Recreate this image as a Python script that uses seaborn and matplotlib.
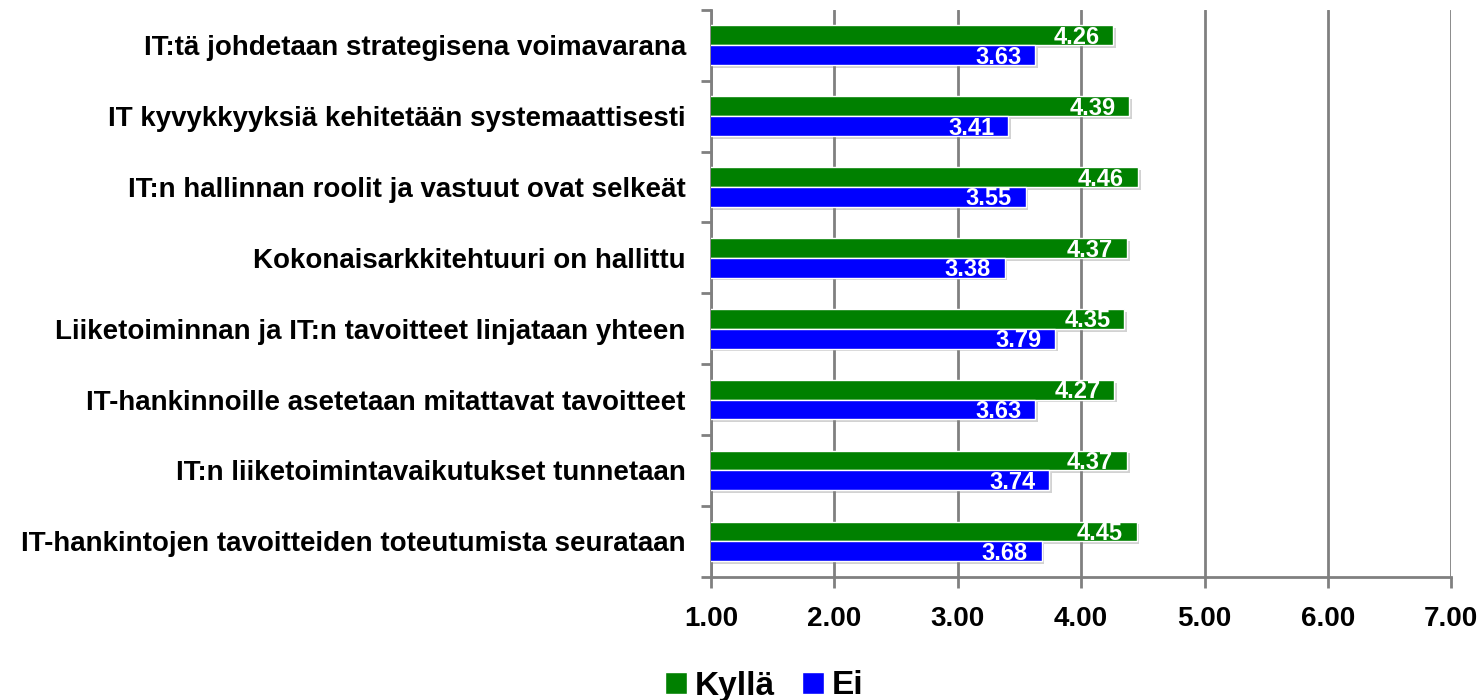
import numpy as np
import pandas as pd
import seaborn as sns
import matplotlib.pyplot as plt
import matplotlib.patheffects as pe
from matplotlib.ticker import FixedLocator

# data
kysymykset = [
    "IT:tä johdetaan strategisena voimavarana",
    "IT kyvykkyyksiä kehitetään systemaattisesti",
    "IT:n hallinnan roolit ja vastuut ovat selkeät",
    "Kokonaisarkkitehtuuri on hallittu",
    "Liiketoiminnan ja IT:n tavoitteet linjataan yhteen",
    "IT-hankinnoille asetetaan mitattavat tavoitteet",
    "IT:n liiketoimintavaikutukset tunnetaan",
    "IT-hankintojen tavoitteiden toteutumista seurataan",
]
kylla = [4.26, 4.39, 4.46, 4.37, 4.35, 4.27, 4.37, 4.45]
ei = [3.63, 3.41, 3.55, 3.38, 3.79, 3.63, 3.74, 3.68]
ryhmat = ["Kyllä", "Ei"]
x_ticks = [1, 2, 3, 4, 5, 6, 7]

df = pd.DataFrame({
    "kysymys": kysymykset * 2,
    "arvo": kylla + ei,
    "ryhma": [ryhmat[0]] * len(kylla) + [ryhmat[1]] * len(ei),
})

sns.set_style("white")
plt.rcParams["font.family"] = ["Liberation Sans", "DejaVu Sans"]
plt.rcParams["font.weight"] = "bold"
plt.rcParams["text.color"] = "black"
plt.rcParams["xtick.color"] = "black"
plt.rcParams["ytick.color"] = "black"

fig = plt.figure(figsize=(14.84, 7), dpi=100)
ax = fig.add_axes([0.479, 0.176, 0.499, 0.81])

sns.barplot(data=df, y="kysymys", x="arvo", hue="ryhma", orient="h",
            palette=["#008000", "#0000FF"], width=0.56, saturation=1,
            order=kysymykset, hue_order=ryhmat, ax=ax, zorder=3)

# varjot + arvot palkkien päähän
for cont in ax.containers:
    for p in cont:
        p.set_path_effects([pe.SimplePatchShadow(offset=(2, -2), shadow_rgbFace="gray", alpha=0.35),
                            pe.Normal()])
        ax.annotate(f"{p.get_width():.2f}", (p.get_width(), p.get_y() + p.get_height() / 2),
                    xytext=(-10, -1.5), textcoords="offset points", ha="right", va="center",
                    color="white", fontsize=17, fontweight="bold", zorder=5)

ax.set_xlim(1, 7)
ax.set_ylim(len(kysymykset) - 0.5, -0.5)
ax.set_xticks(x_ticks)
ax.set_xticklabels([f"{v:.2f}" for v in x_ticks])
ax.set_xlabel("")
ax.set_ylabel("")

ax.grid(axis="x", color="#808080", linewidth=2, zorder=0)
ax.grid(axis="y", visible=False)
for s in ["top", "right"]:
    ax.spines[s].set_visible(False)
for s in ["left", "bottom"]:
    ax.spines[s].set_color("#808080")
    ax.spines[s].set_linewidth(2)

ax.tick_params(axis="x", which="major", bottom=True, direction="out", length=8, width=2,
               color="#808080", labelcolor="black", pad=13, labelsize=20)
ax.tick_params(axis="y", which="major", left=True, length=0, pad=18, labelsize=20,
               labelcolor="black")
ax.yaxis.set_minor_locator(FixedLocator(np.arange(-0.5, len(kysymykset), 1.0)))
ax.tick_params(axis="y", which="minor", left=True, direction="out", length=7, width=2,
               color="#808080")
for lab in ax.get_xticklabels() + ax.get_yticklabels():
    lab.set_fontweight("bold")

handles, labels = ax.get_legend_handles_labels()
ax.get_legend().remove()
fig.legend(handles, labels, loc="lower center", bbox_to_anchor=(0.515, -0.045), ncol=2,
           frameon=False, handlelength=0.65, handleheight=0.65, handletextpad=0.25,
           columnspacing=0.8, prop={"size": 24, "weight": "bold"})

fig.savefig("out.png", dpi=100)
